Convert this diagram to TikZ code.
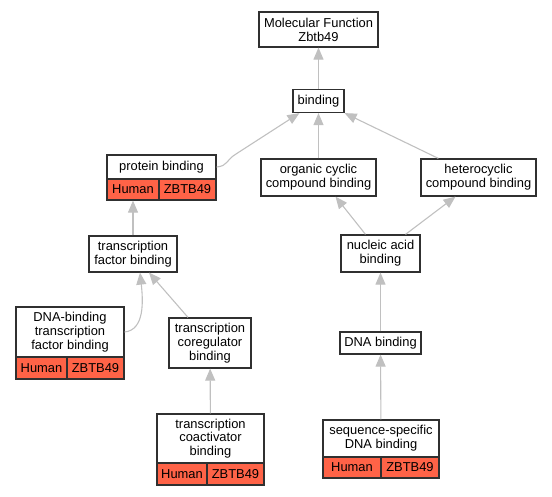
\documentclass[tikz,border=0pt]{standalone}
\usepackage{fontspec}
\setmainfont{Liberation Sans}
\usetikzlibrary{arrows.meta,calc}
\definecolor{edgegray}{HTML}{C0C0C0}
\definecolor{cellred}{HTML}{FF6347}
\definecolor{boxline}{HTML}{303030}
\begin{document}
\begin{tikzpicture}[x=1pt,y=-1pt,
  box/.style={draw=boxline, line width=1.2pt, fill=white, inner sep=0pt, align=center,
    font=\fontsize{12.9}{13.8}\selectfont},
  cell/.style={box, fill=cellred},
  edge/.style={draw=edgegray, line width=1.1pt, -{Triangle[length=12pt,width=10pt]}}]
\useasboundingbox (0,0) rectangle (552,496);
% nodes
\node[box, minimum width=119pt, minimum height=35pt] (mf) at (318.5,29.5) {Molecular Function\\Zbtb49};
\node[box, minimum width=51pt, minimum height=23pt] (bind) at (318.5,101) {binding};
\node[box, minimum width=109pt, minimum height=24pt] (pb) at (161.5,167) {protein binding};
\node[cell, minimum width=52pt, minimum height=21pt] (pbh) at (133,189.5) {Human};
\node[cell, minimum width=57pt, minimum height=21pt] (pbg) at (187.5,189.5) {ZBTB49};
\node[box, minimum width=115pt, minimum height=37pt] (org) at (318.5,177.5) {organic cyclic\\compound binding};
\node[box, minimum width=115pt, minimum height=37pt] (het) at (478.5,177.5) {heterocyclic\\compound binding};
\node[box, minimum width=79pt, minimum height=37pt] (nuc) at (380.5,253.5) {nucleic acid\\binding};
\node[box, minimum width=88pt, minimum height=36pt] (tf) at (133,254) {transcription\\factor binding};
\node[box, minimum width=108pt, minimum height=50pt] (dbtf) at (70,332) {DNA-binding\\transcription\\factor binding};
\node[cell, minimum width=51pt, minimum height=22pt] (dbtfh) at (41.5,368) {Human};
\node[cell, minimum width=57pt, minimum height=22pt] (dbtfg) at (95.5,368) {ZBTB49};
\node[box, minimum width=82pt, minimum height=50pt] (coreg) at (210,343) {transcription\\coregulator\\binding};
\node[box, minimum width=107pt, minimum height=49pt] (coact) at (210.5,438.5) {transcription\\coactivator\\binding};
\node[cell, minimum width=50pt, minimum height=22pt] (coacth) at (182,474) {Human};
\node[cell, minimum width=57pt, minimum height=22pt] (coactg) at (235.5,474) {ZBTB49};
\node[box, minimum width=81pt, minimum height=22pt] (dna) at (380.5,343) {DNA binding};
\node[box, minimum width=116pt, minimum height=37pt] (seq) at (381,438.5) {sequence-specific\\DNA binding};
\node[cell, minimum width=58pt, minimum height=21pt] (seqh) at (352,467.5) {Human};
\node[cell, minimum width=58pt, minimum height=21pt] (seqg) at (410,467.5) {ZBTB49};
% edges
\draw[edge] (bind) -- (mf);
\draw[edge] (pb.east) .. controls (228,166) and (226,160) .. (236,154) -- ($(bind.south west)+(7,0)$);
\draw[edge] (org) -- (bind);
\draw[edge] ($(het.north west)+(18,0)$) -- (bind.south east);
\draw[edge] ($(nuc.north)+(-15,0)$) -- ($(org.south)+(17,0)$);
\draw[edge] ($(nuc.north)+(25,0)$) -- ($(het.south)+(-23,0)$);
\draw[edge] (dna) -- (nuc);
\draw[edge] (seq) -- (dna);
\draw[edge] (tf) -- (pbh);
\draw[edge] (dbtf.east) .. controls (145,330) and (143,300) .. ($(tf.south)+(7,0)$);
\draw[edge] ($(coreg.north)+(-22,0)$) -- ($(tf.south)+(16,0)$);
\draw[edge] (coact) -- (coreg);
\end{tikzpicture}
\end{document}
